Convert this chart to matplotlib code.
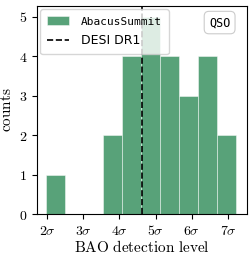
import numpy as np
import matplotlib
matplotlib.use("Agg")
import matplotlib.pyplot as plt

plt.rcParams['mathtext.fontset'] = 'cm'
plt.rcParams['font.family'] = 'serif'
plt.rcParams['font.serif'] = ['DejaVu Serif']

# histogram
bin_edges = [1.97, 2.495, 3.02, 3.545, 4.07, 4.595, 5.12, 5.645, 6.17, 6.695, 7.22]
counts = [1, 0, 0, 2, 4, 5, 4, 3, 4, 2]
desi_dr1 = 4.63
xticks = [2, 3, 4, 5, 6, 7]
xticklabels = [r'$2\sigma$', r'$3\sigma$', r'$4\sigma$', r'$5\sigma$', r'$6\sigma$', r'$7\sigma$']
yticks = [0, 1, 2, 3, 4, 5]

fig = plt.figure(figsize=(2.53, 2.57), dpi=100)
ax = fig.add_axes([0.146, 0.167, 0.83, 0.81])

centers = [(a + b) / 2 for a, b in zip(bin_edges[:-1], bin_edges[1:])]
ax.hist(centers, bins=bin_edges, weights=counts, color='seagreen', alpha=0.8,
        edgecolor='white', linewidth=0.4, label=r'AbacusSummit')
ax.axvline(desi_dr1, color='black', ls='--', lw=1.2, label='DESI DR1')

ax.set_xlim(1.72, 7.52)
ax.set_ylim(0, 5.28)
ax.set_xticks(xticks)
ax.set_xticklabels(xticklabels, fontsize=10)
ax.set_yticks(yticks)
ax.set_yticklabels([r'$%d$' % v for v in yticks], fontsize=10)
ax.set_xlabel(r'$\mathrm{BAO\ detection\ level}$', fontsize=11, labelpad=1)
ax.set_ylabel(r'$\mathrm{counts}$', fontsize=11, labelpad=3)

leg = ax.legend(loc='upper left', fontsize=9, handlelength=1.8, handletextpad=0.9,
                borderaxespad=0.25, borderpad=0.55, labelspacing=0.6, framealpha=0.8)
leg.get_texts()[0].set_family('DejaVu Sans Mono')
leg.get_texts()[0].set_fontsize(8)
leg.get_texts()[1].set_family('DejaVu Sans')

ax.text(0.87, 0.92, 'QSO', transform=ax.transAxes, ha='center', va='center',
        fontsize=8.5, family='DejaVu Sans Mono',
        bbox=dict(boxstyle='round,pad=0.4', fc='white', ec='0.8', lw=0.8))

fig.savefig('out.png', dpi=100)
